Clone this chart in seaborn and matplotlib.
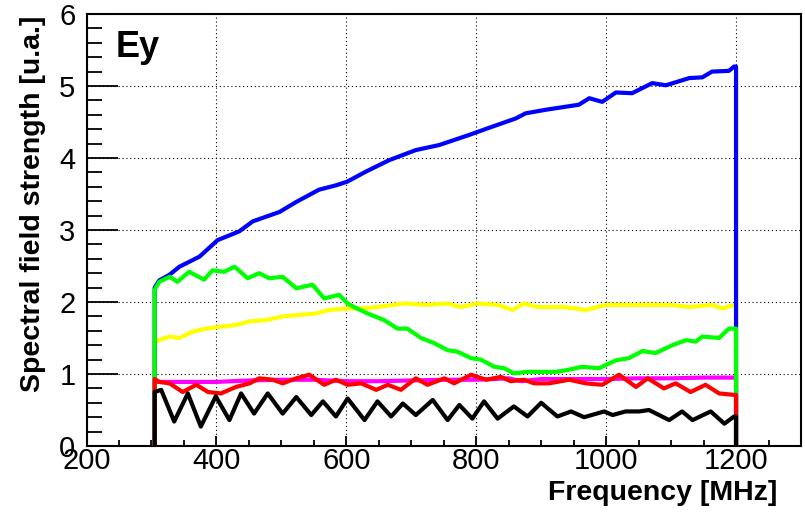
import matplotlib
matplotlib.use("Agg")
import matplotlib.pyplot as plt
import seaborn as sns
import pandas as pd
from matplotlib.ticker import MultipleLocator

# ---------------- data ----------------
F_END = 1200

blue_f = [305, 312, 328, 343, 374, 402, 435, 456, 497, 523, 558, 584, 601, 630, 666, 707,
          743, 789, 820, 861, 876, 907, 958, 974, 994, 1015, 1040, 1071, 1092, 1128, 1148,
          1163, 1189, 1197]
blue_v = [2.20, 2.30, 2.38, 2.49, 2.63, 2.86, 2.98, 3.12, 3.25, 3.39, 3.56, 3.62, 3.67, 3.81,
          3.97, 4.11, 4.18, 4.32, 4.42, 4.55, 4.62, 4.67, 4.74, 4.83, 4.78, 4.91, 4.90, 5.04,
          5.01, 5.11, 5.12, 5.20, 5.21, 5.27]

green_f = [305, 312, 328, 340, 358, 381, 394, 412, 428, 448, 466, 481, 502, 523, 548, 566, 589,
           602, 612, 633, 658, 679, 694, 715, 735, 756, 771, 792, 807, 828, 843, 858, 879, 897,
           923, 943, 963, 989, 1015, 1035, 1056, 1076, 1102, 1123, 1138, 1148, 1174, 1189, 1197]
green_v = [2.17, 2.28, 2.35, 2.28, 2.42, 2.31, 2.44, 2.42, 2.49, 2.33, 2.40, 2.33, 2.35, 2.19,
           2.24, 2.05, 2.10, 1.98, 1.93, 1.84, 1.75, 1.63, 1.63, 1.50, 1.43, 1.33, 1.31, 1.22,
           1.20, 1.10, 1.08, 1.01, 1.03, 1.03, 1.03, 1.06, 1.10, 1.08, 1.19, 1.22, 1.32, 1.29,
           1.40, 1.47, 1.45, 1.52, 1.50, 1.63, 1.63]

yellow_f = [305, 328, 343, 364, 384, 410, 430, 451, 477, 502, 528, 553, 574, 602, 623, 648, 689,
            725, 756, 776, 802, 833, 856, 874, 894, 935, 969, 1000, 1051, 1100, 1128, 1163,
            1179, 1197]
yellow_v = [1.45, 1.52, 1.50, 1.59, 1.63, 1.66, 1.68, 1.73, 1.75, 1.80, 1.82, 1.84, 1.89, 1.91,
            1.91, 1.93, 1.98, 1.96, 1.98, 1.93, 1.98, 1.96, 1.89, 1.98, 1.93, 1.93, 1.89, 1.96,
            1.96, 1.96, 1.93, 1.96, 1.91, 1.96]

magenta_f = [305, 350, 400, 450, 500, 550, 600, 650, 700, 750, 800, 850, 870, 900, 950, 1000,
             1050, 1100, 1150, 1197]
magenta_v = [0.89, 0.89, 0.89, 0.91, 0.92, 0.92, 0.90, 0.90, 0.91, 0.92, 0.92, 0.94, 0.90, 0.93,
             0.93, 0.93, 0.94, 0.94, 0.95, 0.95]

red_f = [305, 312, 328, 348, 369, 387, 407, 430, 451, 466, 487, 502, 523, 543, 566, 584, 602,
         623, 646, 664, 684, 707, 725, 751, 766, 792, 815, 838, 853, 874, 889, 912, 943, 969,
         994, 1020, 1046, 1064, 1089, 1107, 1130, 1153, 1174, 1197]
red_v = [0.93, 0.89, 0.87, 0.75, 0.85, 0.75, 0.73, 0.82, 0.87, 0.94, 0.92, 0.87, 0.94, 0.99,
         0.85, 0.92, 0.85, 0.87, 0.78, 0.85, 0.78, 0.94, 0.85, 0.94, 0.87, 0.99, 0.92, 0.96,
         0.90, 0.92, 0.87, 0.87, 0.92, 0.87, 0.85, 0.99, 0.82, 0.94, 0.80, 0.87, 0.75, 0.85,
         0.73, 0.71]

black_f = [305, 315, 335, 356, 376, 399, 420, 438, 458, 479, 502, 523, 546, 564, 584, 602, 628,
           648, 669, 687, 707, 733, 756, 774, 794, 812, 833, 858, 879, 900, 925, 946, 966, 997,
           1010, 1030, 1051, 1066, 1097, 1117, 1133, 1161, 1182, 1197]
black_v = [0.75, 0.78, 0.34, 0.73, 0.27, 0.69, 0.36, 0.73, 0.45, 0.73, 0.45, 0.68, 0.43, 0.62,
           0.41, 0.66, 0.36, 0.62, 0.41, 0.59, 0.43, 0.64, 0.36, 0.57, 0.38, 0.62, 0.38, 0.55,
           0.41, 0.60, 0.41, 0.48, 0.40, 0.48, 0.43, 0.48, 0.48, 0.50, 0.36, 0.48, 0.36, 0.48,
           0.31, 0.41]

# drawing order (bottom -> top) and colours
series = [
    ("yellow", yellow_f, yellow_v, "#ffff00"),
    ("blue", blue_f, blue_v, "#0000ff"),
    ("magenta", magenta_f, magenta_v, "#ff00ff"),
    ("green", green_f, green_v, "#00ff00"),
    ("red", red_f, red_v, "#ff0000"),
    ("black", black_f, black_v, "#000000"),
]

# ---------------- style ----------------
sns.set_style("white")
plt.rcParams["font.family"] = ["Liberation Sans", "DejaVu Sans"]
plt.rcParams["text.color"] = "black"
plt.rcParams["axes.labelcolor"] = "black"
plt.rcParams["xtick.color"] = "black"
plt.rcParams["ytick.color"] = "black"

W, H = 805, 513
fig = plt.figure(figsize=(W / 100, H / 100), dpi=100)
L, R, T, B = 86.5, 801, 14, 446
ax = fig.add_axes([L / W, 1 - B / H, (R - L) / W, (B - T) / H])

for name, fs, vs, col in series:
    # histogram outline: rises from zero at the first bin, drops to zero at the end
    xs = [fs[0]] + list(fs) + [F_END, F_END]
    ys = [0.0] + list(vs) + [vs[-1], 0.0]
    df = pd.DataFrame({"f": xs, "v": ys})
    sns.lineplot(data=df, x="f", y="v", ax=ax, color=col, linewidth=3.0,
                 sort=False, estimator=None, zorder=3)

ax.set_xlim(200, 1300)
ax.set_ylim(0, 6)
ax.set_xticks(list(range(200, 1201, 200)))
ax.set_yticks(list(range(0, 7)))
ax.xaxis.set_minor_locator(MultipleLocator(50))
ax.yaxis.set_minor_locator(MultipleLocator(0.2))
ax.set_xlabel("")
ax.set_ylabel("")

ax.grid(True, which="major", color="#000000", linewidth=0.8,
        linestyle=(0, (1, 2.5)), zorder=1)
ax.set_axisbelow(True)

for s in ax.spines.values():
    s.set_visible(True)
    s.set_linewidth(1.5)
    s.set_color("black")

ax.tick_params(axis="x", which="major", direction="in", length=7, width=1.3,
               labelsize=21, pad=0.5, colors="black", bottom=True, top=False)
ax.tick_params(axis="x", which="minor", direction="in", length=4, width=1.3,
               bottom=True, top=False)
ax.tick_params(axis="y", which="major", direction="in", length=22, width=1.3,
               labelsize=21, pad=8, colors="black", left=True, right=False)
ax.tick_params(axis="y", which="minor", direction="in", length=11, width=1.3,
               left=True, right=False)

fig.text(116 / W, 1 - 57 / H, "Ey", fontsize=26, fontweight="bold", color="black",
         ha="left", va="baseline")
fig.text(777 / W, 1 - 493 / H, "Frequency [MHz]", fontsize=20.5, fontweight="bold",
         color="black", ha="right", va="center")
fig.text(33 / W, 1 - 16 / H, "Spectral field strength [u.a.]", fontsize=20.5,
         fontweight="bold", color="black", rotation=90, ha="center", va="top")

fig.savefig("out.png", dpi=100)
